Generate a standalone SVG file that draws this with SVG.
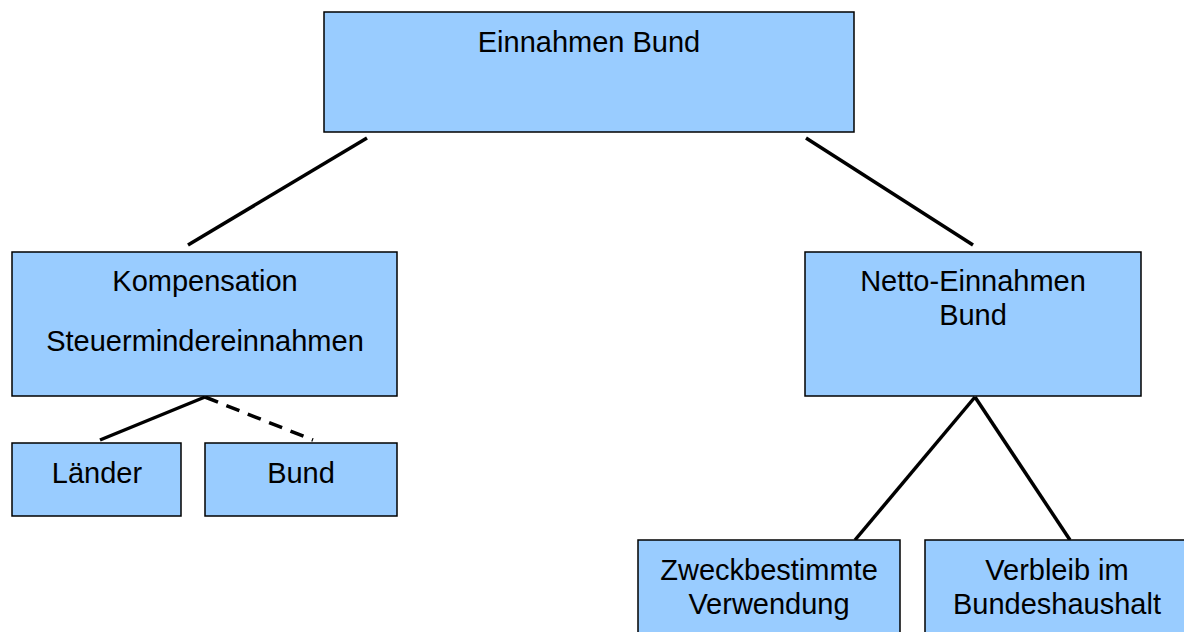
<svg xmlns="http://www.w3.org/2000/svg" width="1184" height="632" viewBox="0 0 1184 632">
<style>
.box{fill:#99ccff;stroke:#000;stroke-width:1.5}
.t{font-family:"Liberation Sans",Arial,sans-serif;font-size:29px;fill:#000;text-anchor:middle}
.ln{stroke:#000;stroke-width:3.5;fill:none}
.dash{stroke-dasharray:14,9}
</style>
<rect width="1184" height="632" fill="#fff"/>
<g id="connectors">
<line class="ln" x1="367" y1="138" x2="188" y2="245"/>
<line class="ln" x1="806" y1="138" x2="973" y2="245"/>
<line class="ln" x1="205" y1="397" x2="100" y2="440"/>
<line class="ln dash" x1="205" y1="397" x2="313" y2="440"/>
<line class="ln" x1="975" y1="397" x2="855" y2="540"/>
<line class="ln" x1="975" y1="397" x2="1070" y2="540"/>
</g>
<g id="n-einnahmen">
<rect class="box" x="324" y="12" width="530" height="120"/>
<text class="t" x="589" y="52">Einnahmen Bund</text>
</g>
<g id="n-kompensation">
<rect class="box" x="12" y="252" width="385" height="144"/>
<text class="t" x="205" y="291">Kompensation</text>
<text class="t" x="205" y="351">Steuermindereinnahmen</text>
</g>
<g id="n-netto">
<rect class="box" x="805" y="252" width="336" height="144"/>
<text class="t" x="973" y="291">Netto-Einnahmen</text>
<text class="t" x="973" y="325">Bund</text>
</g>
<g id="n-laender">
<rect class="box" x="12" y="443" width="169" height="73"/>
<text class="t" x="97" y="483">Länder</text>
</g>
<g id="n-bund">
<rect class="box" x="205" y="443" width="192" height="73"/>
<text class="t" x="301" y="483">Bund</text>
</g>
<g id="n-zweck">
<rect class="box" x="638" y="540" width="262" height="100"/>
<text class="t" x="769" y="580">Zweckbestimmte</text>
<text class="t" x="769" y="614">Verwendung</text>
</g>
<g id="n-verbleib">
<rect class="box" x="925" y="540" width="270" height="100"/>
<text class="t" x="1057" y="580">Verbleib im</text>
<text class="t" x="1057" y="614">Bundeshaushalt</text>
</g>
</svg>
